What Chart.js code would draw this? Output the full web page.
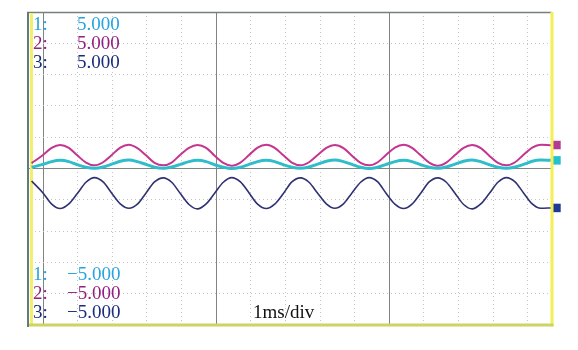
<!DOCTYPE html>
<html>
<head>
<meta charset="utf-8">
<title>Scope capture</title>
<script src="https://cdn.jsdelivr.net/npm/chart.js@4.4.1/dist/chart.umd.min.js"></script>
<style>
  html, body { margin: 0; padding: 0; background: #ffffff; }
  #wrap { width: 578px; height: 350px; position: relative; }
</style>
</head>
<body>
<div id="wrap"><canvas id="scope" width="578" height="350"></canvas></div>
<script>
// Sample times (ms), eight per cycle
const times = [-0.066,
  0.000, 0.050, 0.099, 0.149, 0.198, 0.248, 0.297, 0.347,
  0.397, 0.446, 0.496, 0.545, 0.595, 0.644, 0.694, 0.743,
  0.793, 0.843, 0.892, 0.942, 0.991, 1.041, 1.090, 1.140,
  1.190, 1.239, 1.289, 1.338, 1.388, 1.437, 1.487, 1.536,
  1.586, 1.636, 1.685, 1.735, 1.784, 1.834, 1.883, 1.933,
  1.982, 2.032, 2.082, 2.131, 2.181, 2.230, 2.280, 2.329,
  2.379, 2.429, 2.478, 2.528, 2.577, 2.627, 2.676, 2.726,
  2.775, 2.825, 2.875,
  2.934];

// Channel readings (V)
const ch1 = [0.04,
  0.13, 0.22, 0.26, 0.22, 0.12, 0.04, 0.01, 0.05,
  0.14, 0.23, 0.27, 0.22, 0.13, 0.04, 0.01, 0.05,
  0.13, 0.22, 0.26, 0.22, 0.12, 0.04, 0.00, 0.04,
  0.13, 0.22, 0.26, 0.22, 0.12, 0.04, 0.01, 0.05,
  0.14, 0.23, 0.27, 0.22, 0.13, 0.04, 0.00, 0.04,
  0.13, 0.22, 0.26, 0.22, 0.12, 0.04, 0.01, 0.05,
  0.14, 0.23, 0.27, 0.22, 0.12, 0.04, 0.01, 0.05,
  0.13, 0.23, 0.27,
  0.26];
const ch2 = [0.17,
  0.43, 0.66, 0.75, 0.66, 0.42, 0.19, 0.10, 0.20,
  0.43, 0.67, 0.76, 0.65, 0.42, 0.18, 0.10, 0.19,
  0.44, 0.66, 0.75, 0.66, 0.41, 0.18, 0.09, 0.19,
  0.43, 0.67, 0.76, 0.66, 0.42, 0.19, 0.10, 0.20,
  0.43, 0.66, 0.75, 0.65, 0.41, 0.18, 0.10, 0.20,
  0.44, 0.67, 0.76, 0.66, 0.42, 0.19, 0.09, 0.19,
  0.43, 0.66, 0.75, 0.65, 0.41, 0.18, 0.10, 0.20,
  0.44, 0.67, 0.76,
  0.74];
const ch3 = [-0.40,
  -0.78, -1.14, -1.28, -1.13, -0.80, -0.44, -0.29, -0.43,
  -0.79, -1.13, -1.27, -1.14, -0.78, -0.43, -0.30, -0.44,
  -0.80, -1.15, -1.29, -1.13, -0.79, -0.44, -0.29, -0.43,
  -0.78, -1.14, -1.28, -1.14, -0.80, -0.43, -0.30, -0.44,
  -0.79, -1.13, -1.27, -1.13, -0.78, -0.44, -0.29, -0.43,
  -0.80, -1.14, -1.28, -1.14, -0.79, -0.43, -0.30, -0.44,
  -0.79, -1.15, -1.29, -1.13, -0.80, -0.44, -0.29, -0.43,
  -0.78, -1.13, -1.27,
  -1.26];

// Level markers on the right edge
const markerTime = 2.965;
const markerLevels = [0.26, 0.75, -1.26];

// Grid positions
const xGrid = [0, 0.2, 0.4, 0.6, 0.8, 1, 1.2, 1.4, 1.6, 1.8, 2, 2.2, 2.4, 2.6, 2.8];
const yGrid = [-4, -3, -2, -1, 0, 1, 2, 3, 4];

// Readout text
const chanNames = ['1:', '2:', '3:'];
const scaleTop = ['5.000', '5.000', '5.000'];
const scaleBottom = ['\u22125.000', '\u22125.000', '\u22125.000'];
const timebase = '1ms/div';

const textColors = ['#27a3df', '#931f80', '#1b2b7c'];
const traceColors = ['#2fbdca', '#c4358f', '#2f3272'];
const markerColors = ['#25c0cf', '#b23a92', '#1f3a92'];

const isWhole = v => Math.abs(v - Math.round(v)) < 1e-6;

function series(vals) {
  return times.map((t, i) => ({ x: t, y: vals[i] }));
}

// Frame: borders, trigger line, yellow edges and readouts
const framePlugin = {
  id: 'frame',
  beforeDatasetsDraw(chart) {
    const { ctx, chartArea: a } = chart;
    ctx.save();
    ctx.lineCap = 'butt';
    ctx.strokeStyle = '#76807d';
    ctx.lineWidth = 1.5;
    ctx.beginPath();
    ctx.moveTo(a.left, a.top + 0.5);
    ctx.lineTo(a.right, a.top + 0.5);
    ctx.stroke();
    ctx.strokeStyle = '#667a74';
    ctx.lineWidth = 2;
    ctx.beginPath();
    ctx.moveTo(a.left + 1, a.top);
    ctx.lineTo(a.left + 1, a.bottom + 2);
    ctx.stroke();
    ctx.strokeStyle = '#f1ee72';
    ctx.lineWidth = 3;
    ctx.beginPath();
    ctx.moveTo(a.left + 4.5, a.top + 1);
    ctx.lineTo(a.left + 4.5, a.bottom);
    ctx.stroke();
    ctx.restore();
  },
  afterDatasetsDraw(chart) {
    const { ctx, chartArea: a } = chart;
    ctx.save();
    ctx.lineWidth = 3;
    ctx.strokeStyle = '#f3ef55';
    ctx.beginPath();
    ctx.moveTo(a.right + 0.5, a.top);
    ctx.lineTo(a.right + 0.5, a.bottom + 1.5);
    ctx.stroke();
    ctx.strokeStyle = '#cbd464';
    ctx.beginPath();
    ctx.moveTo(a.left + 2, a.bottom);
    ctx.lineTo(a.right + 2, a.bottom);
    ctx.stroke();
    ctx.restore();
  },
  afterDraw(chart) {
    const { ctx } = chart;
    ctx.save();
    ctx.font = "19px 'Liberation Serif', 'Times New Roman', serif";
    ctx.textBaseline = 'alphabetic';
    for (let i = 0; i < 3; i++) {
      ctx.fillStyle = textColors[i];
      ctx.fillText(chanNames[i], 33, 30 + i * 19);
      ctx.fillText(scaleTop[i], 77, 30 + i * 19);
      ctx.fillText(chanNames[i], 33, 280 + i * 19);
      ctx.fillText(scaleBottom[i], 67, 280 + i * 19);
    }
    ctx.fillStyle = '#111111';
    ctx.fillText(timebase, 253, 318);
    ctx.restore();
  }
};

const trace = (vals, color, width) => ({
  data: series(vals),
  borderColor: color,
  borderWidth: width,
  pointRadius: 0,
  cubicInterpolationMode: 'monotone',
  fill: false
});

// one single-point dataset per level marker
const marker = i => ({
  data: [{ x: markerTime, y: markerLevels[i] }],
  showLine: false,
  pointStyle: 'rect',
  pointRadius: 6,
  pointBackgroundColor: markerColors[i],
  pointBorderWidth: 0,
  clip: false
});

new Chart(document.getElementById('scope'), {
  type: 'line',
  data: {
    datasets: [
      marker(0), marker(1), marker(2),
      trace(ch1, traceColors[0], 3),
      trace(ch2, traceColors[1], 2),
      trace(ch3, traceColors[2], 1.6)
    ]
  },
  options: {
    responsive: false,
    animation: false,
    events: [],
    layout: { padding: { left: 27, top: 12, right: 26.5, bottom: 25 } },
    plugins: { legend: { display: false }, tooltip: { enabled: false } },
    scales: {
      x: {
        type: 'linear',
        min: -0.0925,
        max: 2.9364,
        afterBuildTicks: s => { s.ticks = xGrid.map(v => ({ value: v })); },
        ticks: { display: false },
        grid: {
          drawTicks: false,
          lineWidth: 1,
          color: c => isWhole(c.tick.value) ? '#7d8585' : '#c2c6ca'
        },
        border: {
          display: false,
          dash: c => isWhole(c.tick.value) ? [] : [1, 3]
        }
      },
      y: {
        type: 'linear',
        min: -5,
        max: 5,
        afterBuildTicks: s => { s.ticks = yGrid.map(v => ({ value: v })); },
        ticks: { display: false },
        grid: {
          drawTicks: false,
          lineWidth: 1,
          color: c => c.tick.value === 0 ? '#7d8585' : '#c2c6ca'
        },
        border: {
          display: false,
          dash: c => c.tick.value === 0 ? [] : [1, 3]
        }
      }
    }
  },
  plugins: [framePlugin]
});
</script>
</body>
</html>
